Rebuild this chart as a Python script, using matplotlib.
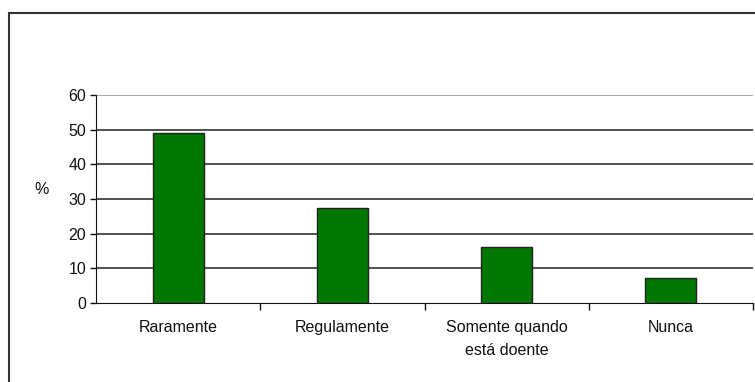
import matplotlib.pyplot as plt
from matplotlib.patches import Rectangle

plt.rcParams['font.family'] = ['Liberation Sans', 'DejaVu Sans']

categories = ['Raramente', 'Regulamente', 'Somente quando\nestá doente', 'Nunca']
percent = [48.9, 27.3, 16.2, 7.3]
y_ticks = [0, 10, 20, 30, 40, 50, 60]

W, H = 755, 382
fig = plt.figure(figsize=(W / 100, H / 100), dpi=100)

# outer chart frame (right and bottom edges fall outside the image)
fig.patches.append(Rectangle((8.5 / W, -0.2), 2.0, 1 - 12.5 / H + 0.2,
                             transform=fig.transFigure, fill=False,
                             edgecolor='#333333', linewidth=1.5))

# plot area in pixels: left 96, right 753, top 95, bottom 303
ax = fig.add_axes([96 / W, 1 - 303 / H, (753 - 96) / W, (303 - 95) / H])

x = range(len(categories))
ax.bar(x, percent, width=0.31, color='#007700', edgecolor='#222222',
       linewidth=1.0, zorder=3)

ax.set_xlim(-0.5, len(categories) - 0.5)
ax.set_ylim(0, 60)
ax.set_yticks(y_ticks)
ax.tick_params(axis='y', labelsize=11.5, length=4, width=1, colors='#111111', pad=3)

# category ticks sit at the boundaries, labels centred below each bar
ax.set_xticks([i + 0.5 for i in range(len(categories))])
ax.set_xticklabels([])
ax.set_xticks(list(x), minor=True)
ax.set_xticklabels(categories, minor=True, fontsize=11.5, color='#111111',
                   linespacing=1.6)
ax.tick_params(axis='x', which='major', length=5, width=1, colors='#111111')
ax.tick_params(axis='x', which='minor', length=0, pad=12.5)

for v in y_ticks[1:-1]:
    ax.axhline(v, color='#333333', linewidth=1.2, zorder=1)
ax.axhline(60, color='#999999', linewidth=1.2, zorder=1)

ax.spines['top'].set_visible(False)
ax.spines['right'].set_visible(False)
ax.spines['left'].set_color('#111111')
ax.spines['bottom'].set_color('#111111')

fig.text(42 / W, 1 - 190 / H, '%', fontsize=11.5, color='#111111',
         ha='center', va='center')

fig.savefig('out.png', dpi=100)
